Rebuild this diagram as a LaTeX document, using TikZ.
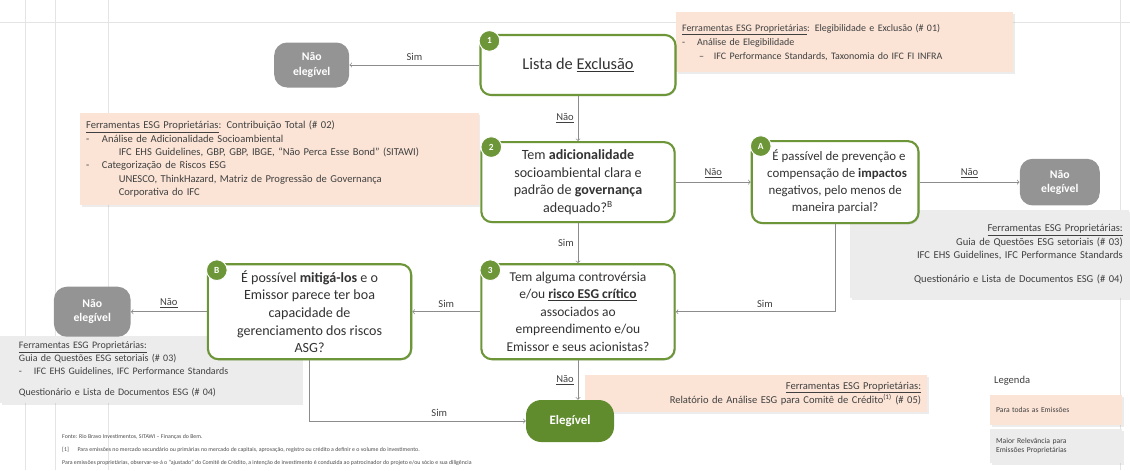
\documentclass[tikz,border=0pt]{standalone}
\usepackage{fontspec}
\setmainfont{Carlito}
\usetikzlibrary{positioning,calc,shadows}

\definecolor{esggreen}{RGB}{108,150,56}
\definecolor{esgdark}{RGB}{96,140,46}
\definecolor{esgorange}{RGB}{251,228,214}
\definecolor{esggray}{RGB}{236,236,236}
\definecolor{nodegray}{RGB}{148,148,148}
\definecolor{linegray}{RGB}{140,140,140}
\definecolor{bggray}{RGB}{228,228,228}

\begin{document}
\begin{tikzpicture}[
            x=0.03cm, y=-0.03cm,
            qbox/.style={draw=esggreen, line width=1.8pt, rounded corners=9pt, fill=white, align=center,
                font=\fontsize{12}{15}\selectfont, text=black!80, inner sep=2pt,
                drop shadow={opacity=0.25, shadow xshift=1pt, shadow yshift=-1pt}},
            badge/.style={circle, fill=esggreen, draw=white, line width=0.8pt, text=white,
                font=\bfseries\fontsize{8}{8}\selectfont, minimum size=0.62cm, inner sep=0pt},
            endno/.style={fill=nodegray, rounded corners=11pt, text=white, align=center,
                font=\bfseries\fontsize{10}{12}\selectfont},
            endyes/.style={fill=esgdark, rounded corners=13pt, text=white, align=center,
                font=\bfseries\fontsize{11}{13}\selectfont},
            tool/.style={fill=esgorange, anchor=north west, inner sep=5pt, font=\fontsize{9}{11.5}\selectfont,
                text=black!75, drop shadow={opacity=0.15, shadow xshift=1.5pt, shadow yshift=-1.5pt}},
            toolgray/.style={tool, fill=esggray},
            arr/.style={->, draw=linegray, line width=0.6pt},
            lbl/.style={font=\fontsize{9}{10}\selectfont, text=black!75}
        ]
        \useasboundingbox (0,0) rectangle (1130,470);

        % faint lines in the background
        \foreach \xx in {25,55,108} \draw[bggray, line width=0.5pt] (\xx,0) -- (\xx,470);
        \draw[bggray, line width=0.5pt] (0,22) -- (1130,22);
        \draw[bggray, line width=0.5pt] (1120,0) -- (1120,470);

        % tools
        \node[tool, text width=9.75cm, minimum height=1.8cm, font=\fontsize{8.5}{12}\selectfont] (t1) at (676,12)
            {\underline{Ferramentas ESG Proprietárias}: Elegibilidade e Exclusão (\# 01)\\
             -\hspace{1.2em}Análise de Elegibilidade\\
             \hspace{1.7em}–\hspace{1em}IFC Performance Standards, Taxonomia do IFC FI INFRA};
        \node[tool, text width=11.6cm, minimum height=2.76cm] (t2) at (80,113)
            {\underline{Ferramentas ESG Proprietárias}: Contribuição Total (\# 02)\\
             -\hspace{1.2em}Análise de Adicionalidade Socioambiental\\
             \hspace{3.1em}IFC EHS Guidelines, GBP, GBP, IBGE, “Não Perca Esse Bond” (SITAWI)\\
             -\hspace{1.2em}Categorização de Riscos ESG\\
             \hspace{3.1em}UNESCO, ThinkHazard, Matriz de Progressão de Governança\\
             \hspace{3.1em}Corporativa do IFC};
        \node[toolgray, text width=8.0cm, minimum height=2.64cm, align=right] (t3) at (850,210)
            {\underline{Ferramentas ESG Proprietárias:}\\
             Guia de Questões ESG setoriais (\# 03)\\
             IFC EHS Guidelines, IFC Performance Standards\\[9pt]
             Questionário e Lista de Documentos ESG (\# 04)};
        \node[toolgray, text width=7.9cm, minimum height=1.95cm, inner xsep=16pt, font=\fontsize{8.5}{11}\selectfont] (t4) at (0,336)
            {\underline{Ferramentas ESG Proprietárias:}\\
             Guia de Questões ESG setoriais (\# 03)\\
             -\hspace{1.2em}IFC EHS Guidelines, IFC Performance Standards\\[7pt]
             Questionário e Lista de Documentos ESG (\# 04)};
        \node[tool, text width=9.9cm, minimum height=1.11cm, align=right] (t5) at (585,375)
            {\underline{Ferramentas ESG Proprietárias:}\\
             Relatório de Análise ESG para Comitê de Crédito\textsuperscript{(1)} (\# 05)};

        % steps
        \node[qbox, minimum width=5.85cm, minimum height=1.8cm, font=\fontsize{14}{16}\selectfont] (q1) at (578,65) {Lista de \underline{Exclusão}};
        \node[qbox, minimum width=5.8cm, minimum height=2.4cm, below=1.35cm of q1] (q2)
            {Tem \textbf{adicionalidade}\\socioambiental clara e\\padrão de \textbf{governança}\\adequado?\textsuperscript{B}};
        \node[qbox, minimum width=5.0cm, minimum height=2.46cm, right=2.25cm of q2, font=\fontsize{11}{14.5}\selectfont] (qA)
            {\hspace{0.6em}É passível de prevenção e\\\hspace{0.3em}compensação de \textbf{impactos}\\negativos, pelo menos de\\maneira parcial?};
        \node[qbox, minimum width=5.8cm, minimum height=2.85cm, below=1.2cm of q2, font=\fontsize{11.5}{15}\selectfont] (q3)
            {Tem alguma controvérsia\\e/ou \underline{\textbf{risco ESG crítico}}\\associados ao\\empreendimento e/ou\\Emissor e seus acionistas?};
        \node[qbox, minimum width=6.1cm, minimum height=2.85cm, left=2.04cm of q3] (qB)
            {É possível \textbf{mitigá-los} e o\\Emissor parece ter boa\\capacidade de\\gerenciamento dos riscos\\ASG?};

        \node[badge] (b1) at ($(q1.north west)+(10,7)$) {1};
        \node[badge] (b2) at ($(q2.north west)+(11,6)$) {2};
        \node[badge] (bA) at ($(qA.north west)+(10,6)$) {A};
        \node[badge] (b3) at ($(q3.north west)+(10,7)$) {3};
        \node[badge] (bB) at ($(qB.north west)+(10,7)$) {B};

        % outcomes
        \node[endno, minimum width=2.25cm, minimum height=1.35cm, left=3.9cm of q1] (n1) {Não\\elegível};
        \node[endno, minimum width=2.4cm, minimum height=1.4cm, right=3.0cm of qA] (nA) {Não\\elegível};
        \node[endno, minimum width=2.3cm, minimum height=1.5cm, left=2.28cm of qB] (nB) {Não\\elegível};
        \node[endyes, minimum width=2.64cm, minimum height=1.26cm] (yes) at (570,421) {Elegível};

        % flow
        \draw[arr] (q1) -- node[lbl, above] {Sim} (n1);
        \draw[arr] (q1) -- node[lbl, left] {\underline{Não}} (q2);
        \draw[arr] (q2) -- node[lbl, above] {\underline{Não}} (qA);
        \draw[arr] (qA) -- node[lbl, above] {\underline{Não}} (nA);
        \draw[arr] (q2) -- node[lbl, left] {Sim} (q3);
        \draw[arr] (qA.south) |- node[lbl, above, pos=0.72] {Sim} (q3.east);
        \draw[arr] (q3) -- node[lbl, above] {Sim} (qB);
        \draw[arr] (qB) -- node[lbl, above] {\underline{Não}} (nB);
        \draw[arr] (q3.south) -- node[lbl, left] {\underline{Não}} (yes.north -| q3.south);
        \draw[arr] (qB.south) |- node[lbl, above, pos=0.8] {Sim} (yes.west);

        % legend
        \node[lbl, anchor=west] (leg) at (990,381) {Legenda};
        \node[tool, text width=3.6cm, minimum height=0.9cm, font=\fontsize{6.5}{8}\selectfont] (leg1) at (990,395)
            {Para todas as Emissões};
        \node[toolgray, text width=3.6cm, minimum height=1.02cm, font=\fontsize{6.5}{8}\selectfont] (leg2) at (990,429)
            {Maior Relevância para\\Emissões Proprietárias};

        % footnotes
        \node[anchor=north west, align=left, inner sep=0pt, font=\fontsize{5}{11}\selectfont, text=black!70] (fn) at (62,434)
            {Fonte: Rio Bravo Investimentos, SITAWI – Finanças do Bem.\\
             {[1]}\hspace{1.5em}Para emissões no mercado secundário ou primárias no mercado de capitais, aprovação, registro ou crédito a definir e o volume do investimento.\\
             Para emissões proprietárias, observar-se-á o “ajustado” do Comitê de Crédito, a intenção de investimento é conduzida ao patrocinador do projeto e/ou sócio e sua diligência};
    \end{tikzpicture}
\end{document}
